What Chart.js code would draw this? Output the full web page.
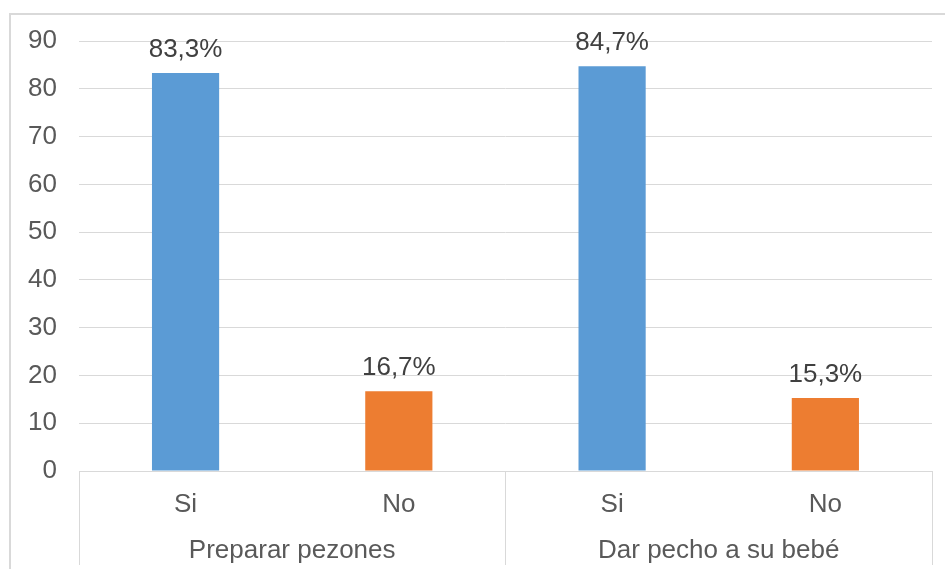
<!DOCTYPE html>
<html>
<head>
<meta charset="utf-8">
<script src="https://cdn.jsdelivr.net/npm/chart.js@4"></script>
<style>
  html, body { margin: 0; padding: 0; background: #fff; }
  #wrap { width: 945px; height: 569px; }
</style>
</head>
<body>
<div id="wrap"><canvas id="barChart" width="945" height="569"></canvas></div>
<script>
// 数据
var groups = ['Preparar pezones', 'Dar pecho a su bebé'];
var answers = ['Si', 'No'];
var siValues = [83.3, 84.7];
var noValues = [16.7, 15.3];
var yTicks = [0, 10, 20, 30, 40, 50, 60, 70, 80, 90];

var FONT = '"Liberation Sans", Arial, sans-serif';
var GRID = '#d9d9d9';

// 展开成四个柱子
var labels = [];
var values = [];
var colors = [];
groups.forEach(function (g, i) {
    labels.push(answers[0], answers[1]);
    values.push(siValues[i], noValues[i]);
    colors.push('#5b9bd5', '#ed7d31');
});

function fmt(v) {
    return v.toFixed(1).replace('.', ',') + '%';
}

// 数值标签、分组标签和边框
var extras = {
    id: 'extras',
    afterDraw: function (chart) {
        var ctx = chart.ctx;
        var x = chart.scales.x;
        var area = chart.chartArea;
        ctx.save();

        // 外框
        ctx.strokeStyle = GRID;
        ctx.lineWidth = 2;
        ctx.beginPath();
        ctx.moveTo(10, chart.height);
        ctx.lineTo(10, 14);
        ctx.lineTo(chart.width, 14);
        ctx.stroke();

        // 分组分隔线
        ctx.lineWidth = 1;
        var n = answers.length;
        var half = (x.getPixelForValue(1) - x.getPixelForValue(0)) / 2;
        for (var g = 0; g <= groups.length; g++) {
            var px = Math.round(x.getPixelForValue(g * n) - half) + 0.5;
            ctx.beginPath();
            ctx.moveTo(px, area.bottom);
            ctx.lineTo(px, area.bottom + 94);
            ctx.stroke();
        }

        // 分组名称
        ctx.fillStyle = '#595959';
        ctx.font = '26px ' + FONT;
        ctx.textAlign = 'center';
        ctx.textBaseline = 'alphabetic';
        groups.forEach(function (name, i) {
            var cx = (x.getPixelForValue(i * n) + x.getPixelForValue(i * n + n - 1)) / 2;
            ctx.fillText(name, cx, area.bottom + 87);
        });

        // 柱顶数值
        ctx.fillStyle = '#404040';
        chart.getDatasetMeta(0).data.forEach(function (bar, i) {
            ctx.fillText(fmt(values[i]), bar.x, bar.y - 16);
        });
        ctx.restore();
    }
};

new Chart(document.getElementById('barChart').getContext('2d'), {
    type: 'bar',
    data: {
        labels: labels,
        datasets: [{
            data: values,
            backgroundColor: colors,
            borderWidth: 0,
            categoryPercentage: 1,
            barPercentage: 0.315
        }]
    },
    options: {
        responsive: false,
        animation: false,
        devicePixelRatio: 1,
        layout: { padding: { left: 6, right: 13, top: 41, bottom: 0 } },
        plugins: { legend: { display: false }, tooltip: { enabled: false } },
        scales: {
            x: {
                grid: { display: false },
                border: { display: false },
                ticks: {
                    color: '#595959',
                    font: { family: FONT, size: 26 },
                    padding: 10,
                    maxRotation: 0
                },
                afterFit: function (scale) { scale.height = 98; }
            },
            y: {
                min: yTicks[0],
                max: yTicks[yTicks.length - 1],
                afterBuildTicks: function (scale) {
                    scale.ticks = yTicks.map(function (v) { return { value: v }; });
                },
                grid: { color: GRID, drawTicks: false },
                border: { display: false },
                ticks: {
                    color: '#595959',
                    font: { family: FONT, size: 26 },
                    padding: 22
                }
            }
        }
    },
    plugins: [extras]
});
</script>
</body>
</html>
